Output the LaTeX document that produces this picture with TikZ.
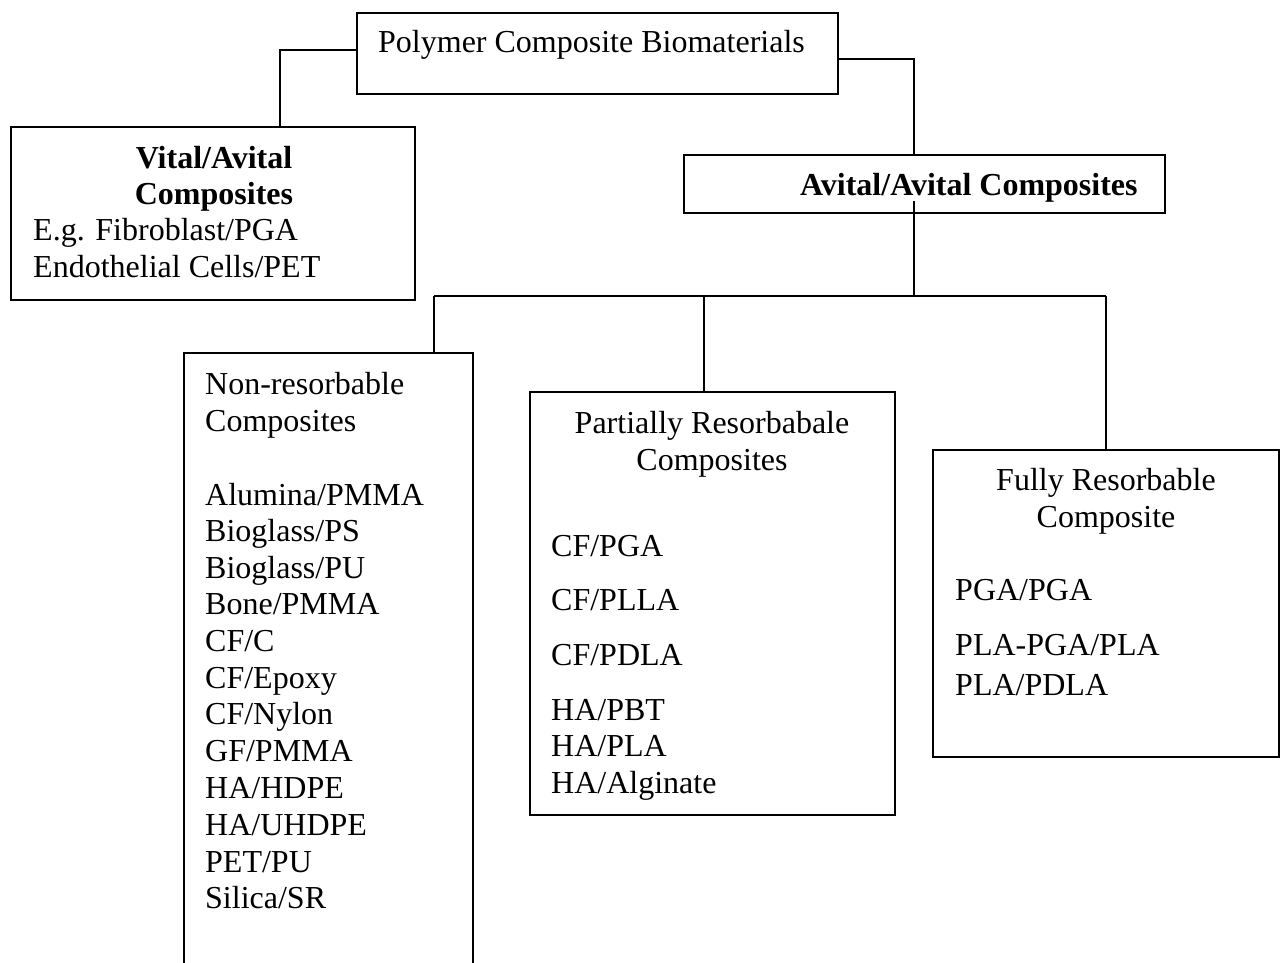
\documentclass[tikz,border=0pt]{standalone}
\usepackage{fontspec}
\setmainfont{Liberation Serif}
\begin{document}
\begin{tikzpicture}[x=1pt,y=-1pt,
  box/.style={draw,line width=2pt,inner sep=0pt},
  txt/.style={anchor=base west,inner sep=0pt,font=\fontsize{32}{37}\selectfont},
  ctxt/.style={anchor=base,inner sep=0pt,font=\fontsize{32}{37}\selectfont},
  bctxt/.style={anchor=base,inner sep=0pt,font=\fontsize{32}{37}\selectfont\bfseries},
  btxt/.style={anchor=base west,inner sep=0pt,font=\fontsize{32}{37}\selectfont\bfseries},
  conn/.style={line width=2pt}]
\clip (0,0) rectangle (1285,963);
\fill[white] (0,0) rectangle (1285,963);
% boxes
\node[box,minimum width=481pt,minimum height=81pt] (top) at (597.5,53.5) {};
\node[box,minimum width=404pt,minimum height=173pt] (vital) at (212.5,213.5) {};
\node[box,minimum width=481pt,minimum height=58pt] (avital) at (924.5,184) {};
\node[box,minimum width=289pt,minimum height=647pt] (nonres) at (328.5,676.5) {};
\node[box,minimum width=365pt,minimum height=423pt] (partial) at (712.5,603.5) {};
\node[box,minimum width=346pt,minimum height=307pt] (fully) at (1106,603.5) {};
% connector points
\coordinate (c1) at (280,50);
\coordinate (c2) at (914,59);
\coordinate (c3) at (914,296);
\coordinate (d1) at (434,296);
\coordinate (d2) at (704,296);
\coordinate (d3) at (1106,296);
\draw[conn] (top.west |- c1) -- (c1) -- (c1 |- vital.north);
\draw[conn] (top.east |- c2) -- (c2) -- (c2 |- avital.north);
\draw[conn] ([yshift=13pt]c3 |- avital.south) -- (c3);
\draw[conn] (d1) -- (d3);
\draw[conn] (d1) -- (d1 |- nonres.north);
\draw[conn] (d2) -- (d2 |- partial.north);
\draw[conn] (d3) -- (d3 |- fully.north);
% texts
\node[txt] (ttop) at (378,53) {Polymer Composite Biomaterials};
\node[bctxt] (tv1) at (214,168) {Vital/Avital};
\node[bctxt] (tv2) at (214,204) {Composites};
\node[txt] (tv3) at (33,240) {E.g. Fibroblast/PGA};
\node[txt] (tv4) at (33,277) {Endothelial Cells/PET};
\node[btxt] (ta) at (800,195) {Avital/Avital Composites};
% non-resorbable
\node[txt] (n1) at (205,394) {Non-resorbable};
\node[txt] (n2) at (205,431) {Composites};
\node[txt] (n3) at (205,505) {Alumina/PMMA};
\node[txt] (n4) at (205,541) {Bioglass/PS};
\node[txt] (n5) at (205,578) {Bioglass/PU};
\node[txt] (n6) at (205,614.5) {Bone/PMMA};
\node[txt] (n7) at (205,651) {CF/C};
\node[txt] (n8) at (205,688) {CF/Epoxy};
\node[txt] (n9) at (205,724.5) {CF/Nylon};
\node[txt] (n10) at (205,761) {GF/PMMA};
\node[txt] (n11) at (205,798) {HA/HDPE};
\node[txt] (n12) at (205,835) {HA/UHDPE};
\node[txt] (n13) at (205,872) {PET/PU};
\node[txt] (n14) at (205,908) {Silica/SR};
% partially
\node[ctxt] (p1) at (712,433) {Partially Resorbabale};
\node[ctxt] (p2) at (712,470) {Composites};
\node[txt] (p3) at (551,556) {CF/PGA};
\node[txt] (p4) at (551,610) {CF/PLLA};
\node[txt] (p5) at (551,665) {CF/PDLA};
\node[txt] (p6) at (551,720) {HA/PBT};
\node[txt] (p7) at (551,756) {HA/PLA};
\node[txt] (p8) at (551,793) {HA/Alginate};
% fully
\node[ctxt] (f1) at (1106,490) {Fully Resorbable};
\node[ctxt] (f2) at (1106,527) {Composite};
\node[txt] (f3) at (955,600) {PGA/PGA};
\node[txt] (f4) at (955,655) {PLA-PGA/PLA};
\node[txt] (f5) at (955,695) {PLA/PDLA};
\end{tikzpicture}
\end{document}
